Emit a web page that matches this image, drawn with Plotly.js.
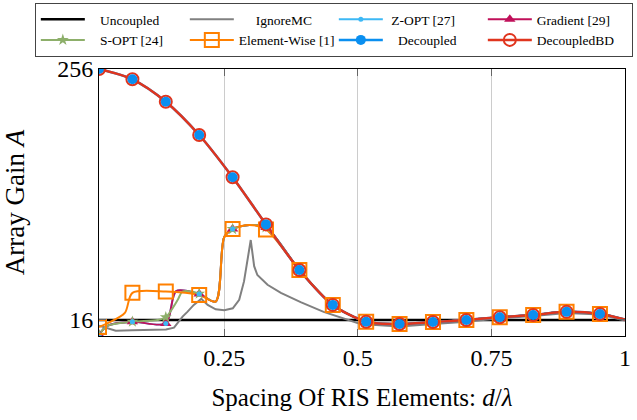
<!DOCTYPE html>
<html>
<head>
<meta charset="utf-8">
<script src="https://cdn.plot.ly/plotly-3.0.1.min.js"></script>
<style>
  html, body { margin: 0; padding: 0; background: #fff; }
  #chart { width: 637px; height: 420px; }
</style>
</head>
<body>
<div id="chart"></div>
<script>
// Spacing d/lambda at which the markers sit
const markerX = [0.015625, 0.078125, 0.140625, 0.203125, 0.265625, 0.328125, 0.390625, 0.453125,
                 0.515625, 0.578125, 0.640625, 0.703125, 0.765625, 0.828125, 0.890625, 0.953125];

// Uncoupled reference
const uncX = [0.015625, 1];
const uncY = [16, 16];

// IgnoreMC
const ignX = [0.015625, 0.031, 0.047, 0.078, 0.109, 0.141, 0.156, 0.172, 0.181, 0.193, 0.207, 0.219,
              0.234, 0.25, 0.266, 0.278, 0.287, 0.2996, 0.306, 0.312, 0.331, 0.356, 0.393, 0.436,
              0.505, 0.547, 0.578, 0.641, 0.703, 0.766, 0.828, 0.891, 0.953, 1];
const ignY = [15.0, 14.6, 14.2, 14.3, 14.3, 14.4, 14.7, 16.6, 17.5, 18.9, 20.2, 18.9,
              18.0, 17.8, 18.2, 20.0, 24.5, 38.7, 29.0, 26.3, 23.6, 21.6, 19.5, 17.5,
              15.3, 15.0, 14.9, 15.3, 15.7, 16.3, 16.7, 17.3, 17.0, 15.9];

// Decoupled and DecoupledBD (identical curves)
const decX = [0.015625, 0.078125, 0.140625, 0.203125, 0.265625, 0.328125, 0.390625, 0.453125,
              0.515625, 0.578125, 0.640625, 0.703125, 0.765625, 0.828125, 0.890625, 0.953125, 1];
const decY = [256, 228.4, 178.4, 123.5, 77.4, 46.0, 27.8, 18.9,
              15.7, 15.3, 15.65, 16.0, 16.5, 16.9, 17.5, 17.1, 16.1];
const bdX = decX.slice();
const bdY = decY.slice();

// Shared tail once the iterative methods reach the decoupled solution
const tailX = [0.390625, 0.453125, 0.515625, 0.578125, 0.640625, 0.703125, 0.765625, 0.828125,
               0.890625, 0.953125, 1];
const tailY = [27.8, 18.9, 15.7, 15.3, 15.65, 16.0, 16.5, 16.9, 17.5, 17.1, 16.1];

// Gradient [29]
const gradX = [0.015625, 0.031, 0.078125, 0.140625, 0.16, 0.203125, 0.234, 0.25, 0.265625, 0.297, 0.328125].concat(tailX);
const gradY = [13.6, 15.0, 15.7, 15.4, 22.0, 21.3, 19.6, 40.0, 43.7, 45.7, 44.5].concat(tailY);

// Z-OPT [27]
const zoptX = [0.015625, 0.031, 0.078125, 0.140625, 0.16, 0.203125, 0.234, 0.25, 0.265625, 0.297, 0.328125].concat(tailX);
const zoptY = [13.6, 15.0, 15.7, 15.4, 22.0, 21.3, 19.6, 40.0, 43.7, 45.7, 44.5].concat(tailY);

// S-OPT [24]
const soptX = [0.015625, 0.031, 0.078125, 0.125, 0.140625, 0.163, 0.172, 0.203125, 0.234, 0.25, 0.265625, 0.297, 0.328125].concat(tailX);
const soptY = [13.6, 15.0, 15.7, 16.0, 16.5, 20.0, 21.9, 21.4, 19.6, 40.0, 43.7, 45.7, 44.5].concat(tailY);

// Element-Wise [1]
const ewX = [0.015625, 0.031, 0.064, 0.078125, 0.140625, 0.203125, 0.234, 0.25, 0.265625, 0.297, 0.328125].concat(tailX);
const ewY = [14.8, 15.4, 17.3, 21.6, 21.9, 21.1, 19.6, 40.0, 43.7, 45.7, 43.5].concat(tailY);

const SERIF = 'Liberation Serif, Times New Roman, serif';
const NB = '\u00a0';

const styles = {
  unc:  {name: NB.repeat(3) + 'Uncoupled',   color: '#000000', width: 2.5},
  ign:  {name: NB.repeat(5) + 'IgnoreMC',    color: '#808080', width: 2},
  zopt: {name: NB + 'Z-OPT [27]',            color: '#3db8f5', width: 2, symbol: 'circle',      size: 5,  fill: true},
  grad: {name: 'Gradient [29]',              color: '#c0105a', width: 2, symbol: 'triangle-up', size: 10, fill: true},
  sopt: {name: NB.repeat(3) + 'S-OPT [24]',  color: '#8daf6a', width: 2, symbol: 'star',        size: 9,  fill: true},
  ew:   {name: 'Element-Wise [1]',           color: '#ff8000', width: 2, symbol: 'square-open', size: 14},
  dec:  {name: NB.repeat(3) + 'Decoupled',   color: '#0a8ff0', width: 2.5, symbol: 'circle',    size: 10, fill: true},
  bd:   {name: 'DecoupledBD',                color: '#e0351e', width: 2.5, symbol: 'circle-open', size: 12}
};

function atMarkers(xs, ys) {
  const mx = [], my = [];
  xs.forEach((x, i) => {
    if (markerX.some(m => Math.abs(m - x) < 1e-6)) { mx.push(x); my.push(ys[i]); }
  });
  return {x: mx, y: my};
}

function markerStyle(s) {
  return {symbol: s.symbol, size: s.size, color: s.color,
          line: {color: s.color, width: s.fill ? 0 : 2}};
}

function lineTrace(xs, ys, s, shape) {
  return {x: xs, y: ys, type: 'scatter', mode: 'lines', showlegend: false, hoverinfo: 'skip',
          line: {color: s.color, width: s.width, shape: shape, smoothing: 0.8}};
}

function markerTrace(xs, ys, s) {
  const p = atMarkers(xs, ys);
  return {x: p.x, y: p.y, type: 'scatter', mode: 'markers', showlegend: false, hoverinfo: 'skip',
          marker: markerStyle(s)};
}

function legendEntry(s) {
  const t = {x: [null], y: [null], type: 'scatter', name: s.name, hoverinfo: 'skip',
             mode: s.symbol ? 'lines+markers' : 'lines', line: {color: s.color, width: s.width}};
  if (s.symbol) t.marker = markerStyle(s);
  return t;
}

const traces = [
  lineTrace(uncX, uncY, styles.unc, 'linear'),
  lineTrace(ignX, ignY, styles.ign, 'linear'),
  lineTrace(zoptX, zoptY, styles.zopt, 'spline'),
  lineTrace(gradX, gradY, styles.grad, 'spline'),
  lineTrace(soptX, soptY, styles.sopt, 'spline'),
  lineTrace(ewX, ewY, styles.ew, 'spline'),
  lineTrace(decX, decY, styles.dec, 'spline'),
  lineTrace(bdX, bdY, styles.bd, 'spline'),
  markerTrace(gradX, gradY, styles.grad),
  markerTrace(soptX, soptY, styles.sopt),
  markerTrace(zoptX, zoptY, styles.zopt),
  markerTrace(ewX, ewY, styles.ew),
  markerTrace(bdX, bdY, styles.bd),
  markerTrace(decX, decY, styles.dec),
  // legend, two rows of four
  legendEntry(styles.unc), legendEntry(styles.ign), legendEntry(styles.zopt), legendEntry(styles.grad),
  legendEntry(styles.sopt), legendEntry(styles.ew), legendEntry(styles.dec), legendEntry(styles.bd)
];

const layout = {
  width: 637, height: 420,
  margin: {l: 99, r: 12, t: 69, b: 84, autoexpand: false},
  paper_bgcolor: '#ffffff', plot_bgcolor: '#ffffff',
  font: {family: SERIF, color: '#000000'},
  showlegend: true,
  legend: {
    orientation: 'h', xref: 'paper', yref: 'paper',
    x: -0.122, y: 1.247, xanchor: 'left', yanchor: 'top',
    bgcolor: '#ffffff', bordercolor: '#444444', borderwidth: 1,
    font: {family: SERIF, size: 13.5, color: '#000000'},
    entrywidth: 90, entrywidthmode: 'pixels', itemwidth: 44, traceorder: 'normal'
  },
  xaxis: {
    range: [0.015625, 1],
    tickvals: [0.25, 0.5, 0.75, 1], ticktext: ['0.25', '0.5', '0.75', '1'],
    showgrid: true, gridcolor: '#cccccc', gridwidth: 1, zeroline: false,
    showline: true, linecolor: '#000000', linewidth: 1, mirror: 'ticks',
    ticks: 'inside', ticklen: 7, tickcolor: '#666666',
    tickfont: {family: SERIF, size: 24, color: '#000000'},
    title: {text: 'Spacing Of RIS Elements: <i>d</i>/<i>λ</i>', font: {family: SERIF, size: 25, color: '#000000'}, standoff: 18}
  },
  yaxis: {
    type: 'log', range: [1.1273, 2.4082],
    tickvals: [16, 256], ticktext: ['16', '256'],
    showgrid: false, zeroline: false,
    showline: true, linecolor: '#000000', linewidth: 1, mirror: 'ticks',
    ticks: 'inside', ticklen: 7, tickcolor: '#666666',
    tickfont: {family: SERIF, size: 24, color: '#000000'},
    title: {text: 'Array Gain <i>A</i>', font: {family: SERIF, size: 27, color: '#000000'}, standoff: 26}
  }
};

Plotly.newPlot('chart', traces, layout, {displayModeBar: false, staticPlot: true});
</script>
</body>
</html>
